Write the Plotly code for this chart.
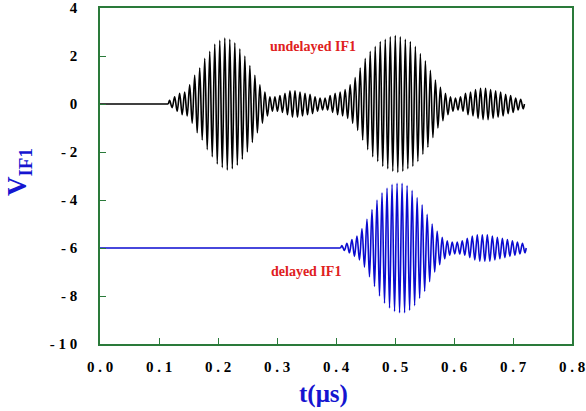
import numpy as np
import plotly.graph_objects as go

# ---- data ----
period = 0.0085  # us, carrier period of the IF signal

black_t0 = 0.118
black_offset = 0.0
black_amp = [0.15, 0.3, 0.45, 0.5, 0.8, 1.2, 1.5, 1.9, 2.2, 2.5,
             2.65, 2.75, 2.7, 2.55, 2.3, 2.0, 1.6, 1.2, 0.8, 0.5,
             0.3, 0.3, 0.35, 0.45, 0.55, 0.55, 0.5, 0.45, 0.4, 0.3,
             0.25, 0.25, 0.35, 0.45, 0.5, 0.6, 0.8, 1.1, 1.5, 1.9,
             2.2, 2.4, 2.6, 2.7, 2.8, 2.85, 2.8, 2.7, 2.6, 2.4,
             2.1, 1.8, 1.4, 1.0, 0.7, 0.45, 0.3, 0.25, 0.3, 0.45,
             0.5, 0.6, 0.65, 0.65, 0.6, 0.55, 0.5, 0.4, 0.35, 0.25, 0.2]

blue_t0 = 0.41
blue_offset = -6.0
blue_amp = [0.1, 0.2, 0.35, 0.5, 0.8, 1.2, 1.6, 2.0, 2.3, 2.5,
            2.65, 2.7, 2.7, 2.6, 2.4, 2.1, 1.8, 1.4, 1.0, 0.7,
            0.45, 0.3, 0.25, 0.25, 0.3, 0.4, 0.5, 0.55, 0.55, 0.55,
            0.5, 0.45, 0.4, 0.35, 0.3, 0.25, 0.2]

x_ticks = [0.0, 0.1, 0.2, 0.3, 0.4, 0.5, 0.6, 0.7, 0.8]
x_ticktext = ["0 . 0", "0 . 1", "0 . 2", "0 . 3", "0 . 4", "0 . 5", "0 . 6", "0 . 7", "0 . 8"]
y_ticks = [4, 2, 0, -2, -4, -6, -8, -10]
y_ticktext = ["4", "2", "0", "- 2", "- 4", "- 6", "- 8", "- 1 0"]


def build(t0, offset, amps):
    # alternating crest/trough through each cycle of the burst
    xs = [t0 - period / 4]
    ys = [offset]
    for k, a in enumerate(amps):
        tc = t0 + k * period
        xs += [tc, tc + period / 2]
        ys += [offset + a, offset - a]
    xs.append(t0 + len(amps) * period - period / 4)
    ys.append(offset)
    return xs, ys


bx, by = build(black_t0, black_offset, black_amp)
ux, uy = build(blue_t0, blue_offset, blue_amp)

green = "#2a7a3a"
blue = "#0a0ad0"
fig = go.Figure()
# flat part before each burst
fig.add_trace(go.Scatter(x=[0.0, bx[0]], y=[black_offset, black_offset], mode="lines",
                         line=dict(color="black", width=1.5), showlegend=False))
fig.add_trace(go.Scatter(x=[0.0, ux[0]], y=[blue_offset, blue_offset], mode="lines",
                         line=dict(color=blue, width=1.5), showlegend=False))
fig.add_trace(go.Scatter(x=bx, y=by, mode="lines",
                         line=dict(color="black", width=1.6, shape="spline", smoothing=1.0),
                         showlegend=False))
fig.add_trace(go.Scatter(x=ux, y=uy, mode="lines",
                         line=dict(color=blue, width=1.6, shape="spline", smoothing=1.0),
                         showlegend=False))

tickfont = dict(family="Liberation Serif", size=15, color="black")
fig.update_xaxes(range=[0, 0.8], tickvals=x_ticks,
                 ticktext=["<b>" + t + "</b>" for t in x_ticktext],
                 ticks="inside", ticklen=6, tickcolor=green, tickwidth=1,
                 showline=True, linecolor=green, linewidth=1.5, mirror=True,
                 showgrid=False, zeroline=False, tickfont=tickfont,
                 ticklabelstandoff=8, automargin=False)
fig.update_yaxes(range=[-10, 4], tickvals=y_ticks,
                 ticktext=["<b>" + t + "</b>" for t in y_ticktext],
                 ticks="inside", ticklen=6, tickcolor=green, tickwidth=1,
                 showline=True, linecolor=green, linewidth=1.5, mirror=True,
                 showgrid=False, zeroline=False, tickfont=tickfont,
                 ticklabelstandoff=18, automargin=False)

fig.add_annotation(x=0.361, y=2.4, text="<b>undelayed IF1</b>", showarrow=False,
                   font=dict(family="Liberation Serif", size=14, color="#e02020"))
fig.add_annotation(x=0.349, y=-6.96, text="<b>delayed IF1</b>", showarrow=False,
                   font=dict(family="Liberation Serif", size=14, color="#e02020"))
fig.add_annotation(xref="paper", yref="paper", x=(323 - 100) / 472, y=-(394 - 344) / 336,
                   xanchor="center", yanchor="middle",
                   text="<b>t(μs)</b>", showarrow=False,
                   font=dict(family="Liberation Serif", size=25, color="#1515d0"))
fig.add_annotation(xref="paper", yref="paper", x=-(100 - 19) / 472, y=(344 - 172) / 336,
                   xanchor="center", yanchor="middle",
                   text="<b>V<sub>IF1</sub></b>", showarrow=False, textangle=-90,
                   font=dict(family="Liberation Serif", size=27, color="#1515d0"))

fig.update_layout(width=586, height=411, margin=dict(l=100, r=14, t=8, b=67, autoexpand=False),
                  paper_bgcolor="white", plot_bgcolor="white")
fig.write_html("out.html", config={"displayModeBar": False},
               post_script="document.body.style.margin='0';document.body.style.overflow='hidden';")
